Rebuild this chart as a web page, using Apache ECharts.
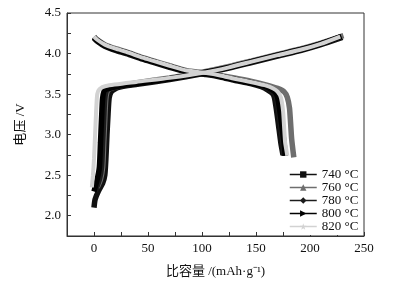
<!DOCTYPE html>
<html>
<head>
<meta charset="utf-8">
<script src="https://cdn.jsdelivr.net/npm/echarts@6/dist/echarts.min.js"></script>
<style>
  html, body { margin: 0; padding: 0; background: #fff; }
  #chart { width: 397px; height: 283px; }
</style>
</head>
<body>
<div id="chart"></div>
<script>
// 温度（图例）
var temps = ['740 °C', '760 °C', '780 °C', '800 °C', '820 °C'];

// 充电曲线 [比容量, 电压]
var chg740 = [[0, 2.1], [1, 2.2], [4, 2.3], [8, 2.4], [10, 2.5], [11, 2.7], [12, 3.0], [13, 3.25], [14, 3.45], [16, 3.53], [22, 3.58], [40, 3.62], [70, 3.68], [100, 3.75], [125, 3.82], [146, 3.89], [170, 3.97], [192, 4.04], [210, 4.11], [230, 4.2]];
var chg760 = [[3, 2.35], [6, 2.45], [8, 2.6], [9, 2.9], [10, 3.2], [11, 3.45], [13, 3.55], [20, 3.59], [40, 3.64], [70, 3.7], [100, 3.77], [125, 3.84], [146, 3.91], [170, 3.99], [192, 4.06], [210, 4.13], [231, 4.22]];
var chg780 = [[1, 2.3], [5, 2.45], [7, 2.6], [8, 2.9], [9, 3.2], [10, 3.45], [12, 3.55], [20, 3.59], [40, 3.63], [70, 3.69], [100, 3.76], [125, 3.83], [146, 3.9], [170, 3.98], [192, 4.05], [210, 4.12], [229, 4.21]];
var chg800 = [[0, 2.3], [3, 2.45], [5, 2.6], [6, 2.9], [7, 3.2], [8, 3.45], [10, 3.55], [20, 3.59], [40, 3.63], [70, 3.69], [100, 3.76], [125, 3.83], [146, 3.9], [170, 3.98], [192, 4.05], [210, 4.12], [229, 4.21]];
var chg820 = [[-2, 2.35], [-1, 2.5], [0, 2.7], [1, 3.0], [2, 3.3], [3, 3.5], [5, 3.56], [11, 3.6], [39, 3.65], [70, 3.7], [104, 3.77], [125, 3.83], [146, 3.9], [170, 3.98], [192, 4.05], [210, 4.12], [228, 4.21]];

// 放电曲线 [比容量, 电压]
var dis740 = [[0, 4.19], [3, 4.15], [10, 4.09], [20, 4.04], [30, 4.0], [45, 3.93], [55, 3.89], [70, 3.83], [86, 3.77], [104, 3.74], [117, 3.71], [130, 3.67], [145, 3.63], [155, 3.59], [161, 3.55], [165, 3.51], [167, 3.46], [169, 3.3], [171, 3.1], [173, 2.9], [175, 2.75]];
var dis760 = [[0, 4.21], [3, 4.17], [10, 4.11], [20, 4.06], [30, 4.02], [45, 3.95], [55, 3.91], [70, 3.85], [86, 3.79], [104, 3.76], [117, 3.73], [130, 3.7], [145, 3.66], [160, 3.61], [170, 3.57], [176, 3.53], [179, 3.46], [181, 3.33], [182, 3.15], [183, 2.95], [185, 2.72]];
var dis780 = [[0, 4.2], [3, 4.16], [10, 4.1], [20, 4.05], [30, 4.01], [45, 3.94], [55, 3.9], [70, 3.84], [86, 3.78], [104, 3.75], [117, 3.72], [130, 3.68], [145, 3.64], [156, 3.6], [163, 3.56], [167, 3.52], [169, 3.46], [171, 3.3], [173, 3.1], [175, 2.9], [176, 2.74]];
var dis800 = [[0, 4.2], [3, 4.16], [10, 4.1], [20, 4.05], [30, 4.01], [45, 3.94], [55, 3.9], [70, 3.84], [86, 3.78], [104, 3.75], [117, 3.72], [130, 3.68], [145, 3.64], [157, 3.6], [164, 3.56], [168, 3.52], [170, 3.46], [172, 3.3], [174, 3.1], [176, 2.9], [177, 2.74]];
var dis820 = [[0, 4.21], [3, 4.17], [10, 4.11], [20, 4.06], [30, 4.02], [45, 3.95], [55, 3.91], [70, 3.85], [86, 3.79], [104, 3.76], [117, 3.73], [130, 3.69], [145, 3.65], [158, 3.61], [166, 3.57], [170, 3.53], [173, 3.46], [175, 3.3], [176, 3.1], [177, 2.9], [179, 2.74]];

var chgData = [chg740, chg760, chg780, chg800, chg820];
var disData = [dis740, dis760, dis780, dis800, dis820];

var colors = ['#111111', '#6e6e6e', '#1c1c1c', '#000000', '#d2d2d2'];
var widths = [5.5, 5.5, 5.5, 5.5, 4];
var symbols = [
    'rect',
    'triangle',
    'diamond',
    'path://M0,0 L10,5 L0,10 Z',
    'path://M5,0 L6.2,3.6 L10,3.6 L6.9,5.8 L8.1,9.5 L5,7.2 L1.9,9.5 L3.1,5.8 L0,3.6 L3.8,3.6 Z'
];

var series = [];
for (var i = 0; i < temps.length; i++) {
    [chgData[i], disData[i]].forEach(function (d) {
        series.push({
            name: temps[i],
            type: 'line',
            data: d,
            smooth: 0.2,
            showSymbol: false,
            symbol: symbols[i],
            symbolSize: 7,
            color: colors[i],
            lineStyle: { width: widths[i], color: colors[i] },
            emphasis: { disabled: true }
        });
    });
}

var myChart = echarts.init(document.getElementById('chart'));

var font = "'Liberation Serif', 'Noto Sans CJK SC', serif";

var option = {
    animation: false,
    textStyle: { fontFamily: font },
    grid: {
        left: 67,
        right: 33,
        top: 13,
        bottom: 43,
        show: true,
        borderColor: '#333',
        borderWidth: 1
    },
    legend: {
        data: temps,
        orient: 'vertical',
        left: 287,
        top: 166,
        itemWidth: 27,
        itemHeight: 8,
        itemGap: 0,
        backgroundColor: '#fff',
        padding: [2, 4, 2, 2],
        lineStyle: { width: 1.5 },
        textStyle: { fontSize: 13, color: '#111', fontFamily: font, lineHeight: 13 }
    },
    xAxis: {
        type: 'value',
        min: -25,
        max: 250,
        interval: 25,
        name: '比容量 /(mAh·g⁻¹)',
        nameLocation: 'middle',
        nameGap: 29,
        nameTextStyle: { fontSize: 13, color: '#111', fontFamily: font },
        splitLine: { show: false },
        axisLine: { onZero: false, lineStyle: { color: '#333' } },
        axisTick: { inside: true, length: 4, lineStyle: { color: '#333' } },
        axisLabel: {
            fontSize: 13,
            color: '#111',
            margin: 6,
            formatter: function (v) {
                return (v >= 0 && v % 50 === 0) ? String(v) : '';
            }
        }
    },
    yAxis: {
        type: 'value',
        min: 1.75,
        max: 4.5,
        interval: 0.25,
        name: '电压 /V',
        nameLocation: 'middle',
        nameGap: 40,
        nameTextStyle: { fontSize: 13, color: '#111', fontFamily: font },
        splitLine: { show: false },
        axisLine: { onZero: false, lineStyle: { color: '#333' } },
        axisTick: { inside: true, length: 4, lineStyle: { color: '#333' } },
        axisLabel: {
            fontSize: 13,
            color: '#111',
            margin: 6,
            formatter: function (v) {
                var d = v * 2;
                return Math.abs(d - Math.round(d)) < 1e-6 ? v.toFixed(1) : '';
            }
        }
    },
    series: series
};

myChart.setOption(option);
</script>
</body>
</html>
